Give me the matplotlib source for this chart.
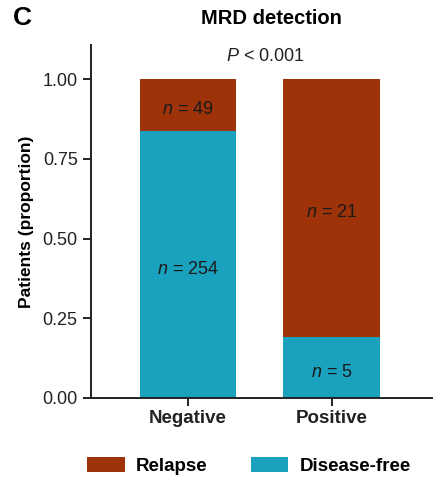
import matplotlib
matplotlib.use("Agg")
import matplotlib.pyplot as plt
from matplotlib.patches import Patch

plt.rcParams["font.family"] = ["Liberation Sans", "DejaVu Sans"]
plt.rcParams["mathtext.fontset"] = "custom"
plt.rcParams["mathtext.rm"] = "Liberation Sans"
plt.rcParams["mathtext.it"] = "Liberation Sans:italic"

groups = ["Negative", "Positive"]
relapse_n = [49, 21]
disease_free_n = [254, 5]
yticks = [0.0, 0.25, 0.5, 0.75, 1.0]
ytick_labels = ["0.00", "0.25", "0.50", "0.75", "1.00"]

relapse_color = "#9E330A"
free_color = "#1AA1BE"

totals = [r + f for r, f in zip(relapse_n, disease_free_n)]
free_prop = [f / t for f, t in zip(disease_free_n, totals)]
relapse_prop = [r / t for r, t in zip(relapse_n, totals)]

fig = plt.figure(figsize=(4.33, 4.80), dpi=100)
ax = fig.add_axes([0.210, 0.171, 0.788, 0.735])

x = list(range(len(groups)))
width = 0.67
ax.bar(x, free_prop, width=width, color=free_color, linewidth=0)
ax.bar(x, relapse_prop, width=width, bottom=free_prop, color=relapse_color, linewidth=0)

for xi, fp, rp, fn, rn in zip(x, free_prop, relapse_prop, disease_free_n, relapse_n):
    ax.text(xi, fp / 2 - 0.015, f"$n$ = {fn}", ha="center", va="center", fontsize=13, color="#1a1a1a")
    ax.text(xi, fp + rp / 2 - 0.015, f"$n$ = {rn}", ha="center", va="center", fontsize=13, color="#1a1a1a")

ax.set_xlim(-0.674, 1.70)
ax.set_ylim(0, 1.107)
ax.set_yticks(yticks)
ax.set_yticklabels(ytick_labels, fontsize=13)
ax.set_xticks(x)
ax.set_xticklabels(groups, fontsize=13.5, fontweight="bold")
ax.set_ylabel("Patients (proportion)", fontsize=12.5, fontweight="bold", labelpad=6)

for side in ["top", "right"]:
    ax.spines[side].set_visible(False)
for side in ["left", "bottom"]:
    ax.spines[side].set_linewidth(1.4)
    ax.spines[side].set_color("#222222")
ax.tick_params(axis="both", direction="out", length=6, width=1.4, color="#222222", labelcolor="#222222")
ax.tick_params(axis="x", pad=3)

fig.text(0.628, 0.962, "MRD detection", ha="center", va="center", fontsize=14.5, fontweight="bold")
fig.text(0.052, 0.962, "C", ha="center", va="center", fontsize=19, fontweight="bold")
ax.text(0.54, 1.07, "$P$ < 0.001", ha="center", va="center", fontsize=13, color="#222222")

handles = [Patch(facecolor=relapse_color, edgecolor="none"),
           Patch(facecolor=free_color, edgecolor="none")]
leg = fig.legend(handles, ["Relapse", "Disease-free"], loc="center", bbox_to_anchor=(0.575, 0.029),
                 ncol=2, frameon=False, handlelength=2.0, handleheight=0.8,
                 columnspacing=2.3, handletextpad=0.6,
                 prop={"size": 13.5, "weight": "bold"})

fig.savefig("out.png", dpi=100)
